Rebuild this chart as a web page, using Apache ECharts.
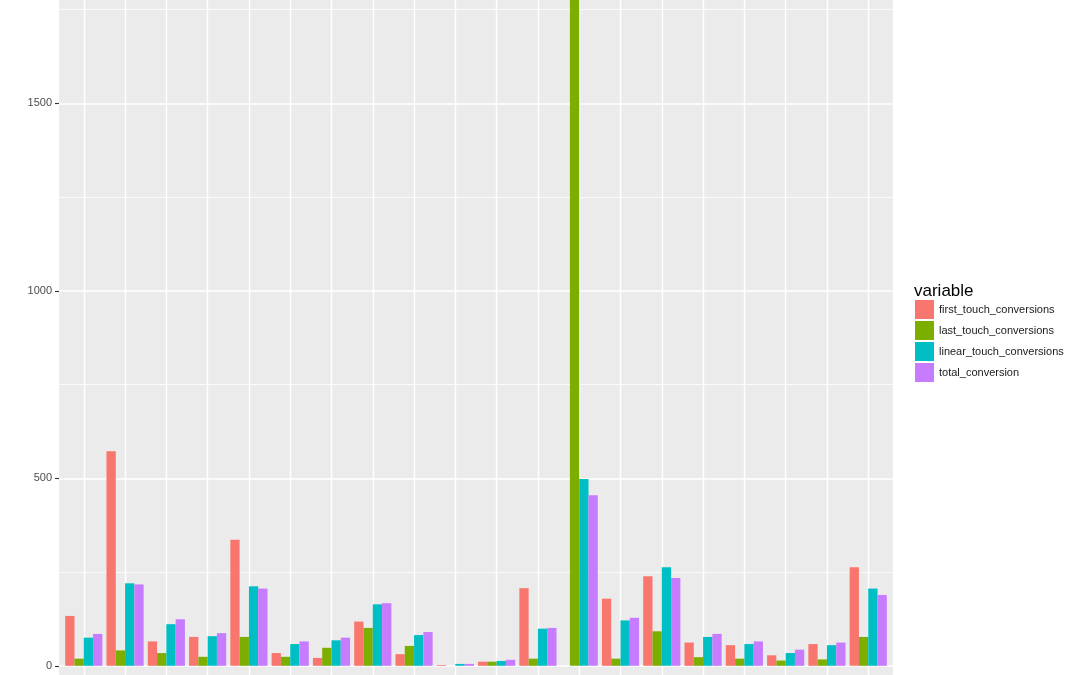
<!DOCTYPE html>
<html>
<head>
<meta charset="utf-8">
<script src="https://cdn.jsdelivr.net/npm/echarts@6/dist/echarts.min.js"></script>
<style>
html,body{margin:0;padding:0;background:#fff;}
#chart{width:1080px;height:675px;}
</style>
</head>
<body>
<div id="chart"></div>
<script>
// ---- data ----
const categories = ['c1','c2','c3','c4','c5','c6','c7','c8','c9','c10','c11','c12','c13','c14','c15','c16','c17','c18','c19','c20'];
const seriesNames = ['first_touch_conversions','last_touch_conversions','linear_touch_conversions','total_conversion'];
const firstTouch  = [133, 572, 65, 77, 336, 34, 21, 118, 31, 2, 11, 207, 0, 179, 239, 62, 55, 28, 58, 263];
const lastTouch   = [19, 41, 34, 24, 77, 24, 48, 101, 53, 0, 11, 19, 1850, 19, 92, 23, 19, 14, 17, 77];
const linearTouch = [75, 220, 111, 79, 212, 58, 68, 164, 82, 5, 13, 99, 498, 121, 263, 77, 58, 34, 55, 206];
const totalConv   = [85, 217, 124, 87, 206, 65, 75, 167, 90, 5, 16, 101, 455, 128, 234, 85, 65, 43, 62, 189];
const majorTicks = [0, 500, 1000, 1500];
const minorTicks = [250, 750, 1250, 1750];
const allSeries = [firstTouch, lastTouch, linearTouch, totalConv];
const colors = ['#F8766D', '#7CAE00', '#00BFC4', '#C77CFF'];

// ---- layout ----
const W = 1080, H = 675;
const zeroY = 665.8, pxPerUnit = 0.375;
const panelLeft = 59, panelRight = 893;
const unit = (panelRight - panelLeft) / 20.2;
const barGridLeft = panelLeft + 0.1 * unit;
const barGridWidth = 20 * unit;
const yTop = (v) => zeroY - v * pxPerUnit;
const yMaxBars = zeroY / pxPerUnit;          // value at y=0
const yMinBars = -(H - zeroY) / pxPerUnit;   // value at y=H

const chart = echarts.init(document.getElementById('chart'), null, {renderer: 'canvas'});

const hiddenX = (gi) => ({type: 'value', gridIndex: gi, show: false, min: 0, max: 1});

const option = {
  backgroundColor: '#ffffff',
  animation: false,
  title: {
    text: 'variable', left: 914, top: 283, padding: 0,
    textStyle: {fontFamily: 'Liberation Sans', fontSize: 17, fontWeight: 'normal', color: '#000'}
  },
  legend: {
    orient: 'vertical', left: 915, top: 300, padding: 0,
    itemWidth: 19, itemHeight: 19, itemGap: 2,
    icon: 'rect',
    data: seriesNames,
    textStyle: {fontFamily: 'Liberation Sans', fontSize: 11, color: '#1a1a1a'}
  },
  grid: [
    {left: panelLeft, width: panelRight - panelLeft, top: 0, bottom: 0, show: true, backgroundColor: '#EBEBEB', borderWidth: 0, z: 0},
    {left: panelLeft, width: panelRight - panelLeft, top: yTop(minorTicks[minorTicks.length-1]), bottom: H - yTop(minorTicks[0]), show: false},
    {left: panelLeft, width: panelRight - panelLeft, top: yTop(majorTicks[majorTicks.length-1]), bottom: H - zeroY, show: false},
    {left: barGridLeft, width: barGridWidth, top: 0, bottom: 0, show: false}
  ],
  xAxis: [
    hiddenX(0), hiddenX(1), hiddenX(2),
    {
      type: 'category', gridIndex: 3, data: categories,
      axisLine: {show: false, onZero: false},
      axisLabel: {show: false},
      axisTick: {show: true, alignWithLabel: true, inside: true, length: H, lineStyle: {color: '#ffffff', width: 1.4}},
      splitLine: {show: false},
      z: 1
    }
  ],
  yAxis: [
    {type: 'value', gridIndex: 0, show: false, min: 0, max: 1},
    {
      type: 'value', gridIndex: 1, min: minorTicks[0], max: minorTicks[minorTicks.length-1], interval: 500,
      axisLine: {show: false}, axisTick: {show: false}, axisLabel: {show: false},
      splitLine: {show: true, lineStyle: {color: '#ffffff', width: 0.8}}, z: 1
    },
    {
      type: 'value', gridIndex: 2, min: majorTicks[0], max: majorTicks[majorTicks.length-1], interval: 500,
      axisLine: {show: false},
      axisTick: {show: true, length: 4, lineStyle: {color: '#333333', width: 1.1}},
      axisLabel: {show: true, margin: 7, fontFamily: 'Liberation Sans', fontSize: 11, color: '#4D4D4D',
                  formatter: (v) => String(v)},
      splitLine: {show: true, lineStyle: {color: '#ffffff', width: 1.5}}, z: 1
    },
    {type: 'value', gridIndex: 3, show: false, min: yMinBars, max: yMaxBars, splitLine: {show: false}}
  ],
  series: seriesNames.map((name, i) => ({
    name: name,
    type: 'bar',
    xAxisIndex: 3, yAxisIndex: 3,
    data: allSeries[i],
    barWidth: '22.5%',
    barGap: '0%',
    clip: true,
    itemStyle: {color: colors[i]},
    z: 2
  }))
};
chart.setOption(option);
</script>
</body>
</html>
